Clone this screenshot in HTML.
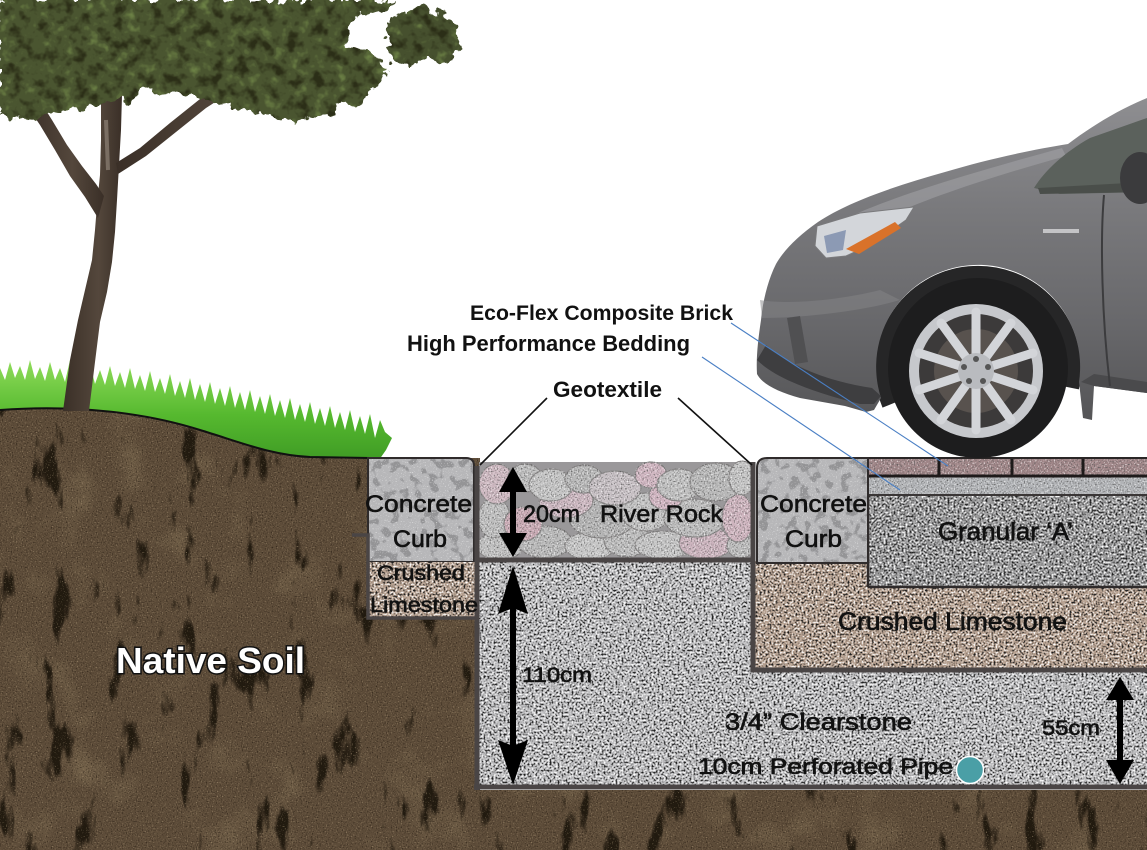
<!DOCTYPE html>
<html><head><meta charset="utf-8"><style>html,body{margin:0;padding:0;background:#fff}svg{display:block}</style></head>
<body>
<svg width="1147" height="850" viewBox="0 0 1147 850" xmlns="http://www.w3.org/2000/svg">
<defs>
<filter id="fSoil" filterUnits="userSpaceOnUse" x="0" y="0" width="1147" height="850" color-interpolation-filters="sRGB">
 <feTurbulence type="fractalNoise" baseFrequency="0.045 0.014" numOctaves="4" seed="11" result="t1"/>
 <feColorMatrix in="t1" type="matrix" values="0 0 0 0 0.13 0 0 0 0 0.1 0 0 0 0 0.06 -9 0 0 0 3.3" result="dk"/>
 <feTurbulence type="fractalNoise" baseFrequency="0.02" numOctaves="3" seed="4" result="t3"/>
 <feColorMatrix in="t3" type="matrix" values="0 0 0 0 0.48 0 0 0 0 0.41 0 0 0 0 0.31 2 0 0 0 -1.1" result="lp"/>
 <feTurbulence type="fractalNoise" baseFrequency="0.8" numOctaves="1" seed="3" result="t2"/>
 <feColorMatrix in="t2" type="matrix" values="0 0 0 0 0.66 0 0 0 0 0.58 0 0 0 0 0.46 4 0 0 0 -2.45" result="lt"/>
 <feColorMatrix in="t2" type="matrix" values="0 0 0 0 0.16 0 0 0 0 0.12 0 0 0 0 0.08 -4 0 0 0 1.7" result="dk2"/>
 <feMerge result="m"><feMergeNode in="SourceGraphic"/><feMergeNode in="lp"/><feMergeNode in="dk"/><feMergeNode in="dk2"/><feMergeNode in="lt"/></feMerge>
 <feComposite in="m" in2="SourceGraphic" operator="in"/>
</filter>
<filter id="fGravel" filterUnits="userSpaceOnUse" x="0" y="0" width="1147" height="850" color-interpolation-filters="sRGB">
 <feTurbulence type="fractalNoise" baseFrequency="0.5" numOctaves="2" seed="5" result="t"/>
 <feColorMatrix in="t" type="matrix" values="0 0 0 0 0.12 0 0 0 0 0.12 0 0 0 0 0.12 -6 0 0 0 2.75" result="dk"/>
 <feColorMatrix in="t" type="matrix" values="0 0 0 0 1 0 0 0 0 1 0 0 0 0 1 5 0 0 0 -2.7" result="lt"/>
 <feMerge result="m"><feMergeNode in="SourceGraphic"/><feMergeNode in="dk"/><feMergeNode in="lt"/></feMerge>
 <feComposite in="m" in2="SourceGraphic" operator="in"/>
</filter>
<filter id="fFine" filterUnits="userSpaceOnUse" x="0" y="0" width="1147" height="850" color-interpolation-filters="sRGB">
 <feTurbulence type="fractalNoise" baseFrequency="0.7" numOctaves="1" seed="9" result="t"/>
 <feColorMatrix in="t" type="matrix" values="0 0 0 0 0.35 0 0 0 0 0.35 0 0 0 0 0.35 -4 0 0 0 1.8" result="dk"/>
 <feColorMatrix in="t" type="matrix" values="0 0 0 0 1 0 0 0 0 1 0 0 0 0 1 4 0 0 0 -2.3" result="lt"/>
 <feMerge result="m"><feMergeNode in="SourceGraphic"/><feMergeNode in="dk"/><feMergeNode in="lt"/></feMerge>
 <feComposite in="m" in2="SourceGraphic" operator="in"/>
</filter>
<filter id="fConc" filterUnits="userSpaceOnUse" x="0" y="0" width="1147" height="850" color-interpolation-filters="sRGB">
 <feTurbulence type="fractalNoise" baseFrequency="0.1" numOctaves="2" seed="21" result="t"/>
 <feColorMatrix in="t" type="matrix" values="0 0 0 0 0.58 0 0 0 0 0.58 0 0 0 0 0.59 -12 0 0 0 5.6" result="blob"/>
 <feTurbulence type="fractalNoise" baseFrequency="0.8" numOctaves="1" seed="2" result="t2"/>
 <feColorMatrix in="t2" type="matrix" values="0 0 0 0 0.95 0 0 0 0 0.95 0 0 0 0 0.95 4 0 0 0 -2.4" result="lt"/>
 <feMerge result="m"><feMergeNode in="SourceGraphic"/><feMergeNode in="blob"/><feMergeNode in="lt"/></feMerge>
 <feComposite in="m" in2="SourceGraphic" operator="in"/>
</filter>
<filter id="fLeaf" filterUnits="userSpaceOnUse" x="-30" y="-30" width="530" height="190" color-interpolation-filters="sRGB">
 <feTurbulence type="fractalNoise" baseFrequency="0.08" numOctaves="3" seed="7" result="t"/>
 <feDisplacementMap in="SourceGraphic" in2="t" scale="18" xChannelSelector="R" yChannelSelector="G" result="d"/>
 <feColorMatrix in="t" type="matrix" values="0 0 0 0 0.42 0 0 0 0 0.5 0 0 0 0 0.27 4 0 0 0 -2.4" result="lt"/>
 <feColorMatrix in="t" type="matrix" values="0 0 0 0 0.17 0 0 0 0 0.18 0 0 0 0 0.09 -4 0 0 0 2.0" result="dk"/>
 <feMerge result="m"><feMergeNode in="d"/><feMergeNode in="lt"/><feMergeNode in="dk"/></feMerge>
 <feComposite in="m" in2="d" operator="in"/>
</filter>
<linearGradient id="gGrass" x1="0" y1="0" x2="0" y2="1">
 <stop offset="0" stop-color="#8fdc5a"/><stop offset="0.5" stop-color="#56b92f"/><stop offset="1" stop-color="#3a9522"/>
</linearGradient>
<linearGradient id="gCar" x1="0" y1="0" x2="0" y2="1">
 <stop offset="0" stop-color="#8e8e91"/><stop offset="0.35" stop-color="#79797c"/><stop offset="0.7" stop-color="#68686b"/><stop offset="1" stop-color="#555557"/>
</linearGradient>
<linearGradient id="gTrunk" x1="0" y1="0" x2="1" y2="0">
 <stop offset="0" stop-color="#3a2f27"/><stop offset="0.6" stop-color="#54473c"/><stop offset="1" stop-color="#3a2f27"/>
</linearGradient>
</defs>

<rect width="1147" height="850" fill="#fff"/>

<polygon fill="url(#gGrass)" points="0,470 0,368 5,380 10,362 15,378 20,366 25,380 30,360 35,379 40,367 45,381 50,362 55,380 60,368 65,382 70,360 75,381 80,369 85,383 90,364 95,384 100,370 105,385 110,366 115,386 120,372 125,388 130,368 135,389 140,375 145,391 150,371 155,392 160,378 165,394 170,374 175,396 180,381 185,398 190,378 195,400 200,384 205,402 210,382 215,404 220,388 225,406 230,386 235,408 240,392 245,410 250,390 255,412 260,396 265,414 270,394 275,416 280,400 285,418 290,398 295,420 300,404 305,422 310,402 315,424 320,408 325,426 330,406 335,428 340,412 345,430 350,410 355,432 360,416 365,434 370,414 375,438 380,420 385,432 392,438 386,450 372,470"/>

<path filter="url(#fSoil)" fill="#5d4c39" d="M0,410 C80,404 150,414 200,430 C240,442 270,455 310,457 L372,458 L480,458 L480,790 L1147,790 L1147,850 L0,850 Z"/>
<path d="M0,410 C80,404 150,414 200,430 C240,442 270,455 310,457 L370,458" fill="none" stroke="#111" stroke-width="2"/>

<g fill="url(#gTrunk)">
 <polygon points="63,411 70,360 78,320 85,290 92,260 95,230 97,205 100,175 101,140 101,95 122,95 121,130 119,165 117,200 115,232 112,262 107,292 100,322 95,362 89,411"/>
 <polygon points="98,218 85,197 70,176 55,150 40,125 25,103 38,98 52,120 67,145 82,166 96,184 104,196"/>
 <polygon points="116,163 140,148 170,123 200,99 232,78 270,54 300,36 305,43 276,62 237,88 206,108 176,132 146,156 118,174"/>
</g>
<path d="M106,120 L108,170" stroke="#9a8e82" stroke-width="4" opacity="0.6"/>

<g filter="url(#fLeaf)">
 <path fill="#4a5530" d="M0,0 H395 L385,12 L360,14 L345,30 L350,45 L375,55 L392,68 L382,82 L368,94 L360,106 L340,102 L330,116 L300,122 L270,118 L250,108 L220,106 L200,98 L170,94 L150,88 L130,98 L115,103 L95,106 L70,110 L50,114 L30,118 L10,120 L0,118 Z"/>
 <path fill="#46502e" d="M388,22 L405,10 L425,6 L445,15 L460,30 L462,50 L450,62 L440,64 L420,57 L410,68 L395,62 L386,46 Z"/>
</g>

<rect filter="url(#fGravel)" x="478" y="561" width="669" height="226" fill="#bdbdbf"/>
<rect filter="url(#fGravel)" x="755" y="561" width="392" height="109" fill="#b6a08f"/>
<rect filter="url(#fGravel)" x="868" y="494" width="279" height="93" fill="#9a9a9b"/>
<line x1="868" y1="494" x2="868" y2="587" stroke="#2e2a2a" stroke-width="2.5"/>
<line x1="868" y1="587" x2="1147" y2="587" stroke="#2e2a2a" stroke-width="2.5"/>
<rect filter="url(#fFine)" x="868" y="476" width="279" height="19" fill="#b2b4b7"/>
<line x1="868" y1="495" x2="1147" y2="495" stroke="#3a3636" stroke-width="2"/>
<rect filter="url(#fFine)" x="868" y="458" width="279" height="18" fill="#a08688"/>
<g stroke="#1e1a1a" stroke-width="3">
 <line x1="868" y1="476" x2="1147" y2="476"/>
 <line x1="939" y1="458" x2="939" y2="476"/>
 <line x1="1012" y1="458" x2="1012" y2="476"/>
 <line x1="1083" y1="458" x2="1083" y2="476"/>
</g>
<line x1="868" y1="458" x2="1147" y2="458" stroke="#2a2626" stroke-width="2"/>
<path filter="url(#fConc)" d="M757,563 L757,468 Q757,458 767,458 L868,458 L868,563 Z" fill="#b7b7b9"/>
<path d="M757,563 L757,468 Q757,458 767,458 L868,458 L868,563 Z" fill="none" stroke="#2f2b2b" stroke-width="2"/>

<path filter="url(#fConc)" d="M368,458 L466,458 Q474,458 474,466 L474,562 L368,562 Z" fill="#b7b7b9"/>
<path d="M368,458 L466,458 Q474,458 474,466 L474,562 L368,562 Z" fill="none" stroke="#2f2b2b" stroke-width="2"/>
<rect filter="url(#fGravel)" x="369" y="562" width="106" height="55" fill="#b6a08f"/>

<rect x="479" y="462" width="274" height="97" fill="#9a989a"/>
<g filter="url(#fFine)" stroke="#8a8888" stroke-width="1.2">
 <ellipse cx="500" cy="546" rx="23" ry="14" fill="#c0c0c0"/>
 <ellipse cx="545" cy="542" rx="27" ry="16" fill="#b9b9b9"/>
 <ellipse cx="590" cy="546" rx="25" ry="14" fill="#c6c6c6"/>
 <ellipse cx="627" cy="540" rx="23" ry="17" fill="#bdbdbd"/>
 <ellipse cx="663" cy="545" rx="28" ry="14" fill="#c4c4c4"/>
 <ellipse cx="706" cy="543" rx="27" ry="16" fill="#cbb3bd"/>
 <ellipse cx="741" cy="546" rx="14" ry="12" fill="#bcbcbc"/>
 <ellipse cx="494" cy="518" rx="16" ry="20" fill="#bebebe"/>
 <ellipse cx="523" cy="524" rx="19" ry="17" fill="#c9aab4"/>
 <ellipse cx="602" cy="518" rx="33" ry="20" fill="#b4b4b4"/>
 <ellipse cx="646" cy="512" rx="25" ry="19" fill="#c2c2c2"/>
 <ellipse cx="695" cy="518" rx="31" ry="19" fill="#bcbcbc"/>
 <ellipse cx="738" cy="518" rx="16" ry="24" fill="#cdb3bd"/>
 <ellipse cx="566" cy="500" rx="27" ry="18" fill="#ccb7c0"/>
 <ellipse cx="666" cy="496" rx="17" ry="14" fill="#d0b4c0"/>
 <ellipse cx="497" cy="484" rx="18" ry="20" fill="#cdb8c0"/>
 <ellipse cx="525" cy="478" rx="17" ry="14" fill="#bdbdbd"/>
 <ellipse cx="551" cy="485" rx="22" ry="16" fill="#c4c4c4"/>
 <ellipse cx="584" cy="479" rx="19" ry="14" fill="#b8b8b8"/>
 <ellipse cx="615" cy="488" rx="26" ry="17" fill="#c6bfc3"/>
 <ellipse cx="651" cy="475" rx="16" ry="13" fill="#cfb5c0"/>
 <ellipse cx="679" cy="485" rx="22" ry="16" fill="#c0c0c0"/>
 <ellipse cx="716" cy="482" rx="26" ry="19" fill="#b8b8b8"/>
 <ellipse cx="742" cy="478" rx="13" ry="17" fill="#c4c4c4"/>
</g>

<g stroke="#4a4545" fill="none">
 <polyline points="352,535 368,535 368,618 477,618" stroke-width="3.5"/>
 <line x1="477" y1="466" x2="477" y2="790" stroke-width="5"/>
 <line x1="474" y1="787" x2="1147" y2="787" stroke-width="5"/>
 <line x1="477" y1="560" x2="755" y2="560" stroke-width="5"/>
 <line x1="753" y1="462" x2="753" y2="672" stroke-width="5"/>
 <line x1="751" y1="670" x2="1147" y2="670" stroke-width="5"/>
</g>

<path d="M889,405 A96,96 0 1 1 1072,388" fill="none" stroke="#262627" stroke-width="14"/>
<path fill="url(#gCar)" d="M1147,98 C1118,110 1092,126 1068,144 C1030,150 985,160 945,172 C895,186 848,202 818,222 C798,236 784,250 776,264 C768,280 763,300 761,320 C758,340 756,358 757,374 C762,384 778,392 800,398 L845,406 L866,412 L874,410 L881,398 A102,102 0 1 1 1079,382 L1083,418 L1092,420 L1094,386 L1147,393 Z"/>
<path d="M830,226 C880,200 960,176 1062,148 L1066,156 C980,180 905,205 852,234 Z" fill="#a4a4a7" opacity="0.55"/>
<path d="M760,300 C790,305 840,300 880,290 L900,300 C860,312 800,318 762,318 Z" fill="#858588" opacity="0.5"/>
<path d="M757,360 C775,378 812,392 860,404 L874,404 L881,396 L872,388 C832,382 792,368 766,345 Z" fill="#3e3e40"/>
<path d="M787,318 L800,316 L808,362 L795,364 Z" fill="#505052"/>
<path d="M1081,382 L1094,386 L1147,393 L1147,382 L1094,374 Z" fill="#4a4a4c"/>
<path d="M817,226 L860,213 L914,207 L906,220 L872,244 L846,256 L826,258 L815,246 Z" fill="#d3d6da" stroke="#7a7a7c" stroke-width="1"/>
<path d="M824,236 L846,230 L843,250 L827,253 Z" fill="#8c9ab4"/>
<path d="M846,249 L895,222 L901,228 L859,254 Z" fill="#d9722a"/>
<path d="M1034,188 C1045,170 1065,152 1090,138 L1147,118 L1147,192 L1060,194 Z" fill="#5b615c"/>
<path d="M1038,188 L1147,182 L1147,192 L1040,194 Z" fill="#4a4e4a"/>
<ellipse cx="1140" cy="178" rx="20" ry="26" fill="#3b3b3d"/>
<path d="M1104,195 C1100,240 1102,320 1110,386" fill="none" stroke="#3c3c3e" stroke-width="2"/>
<rect x="1043" y="229" width="36" height="4" fill="#d8d8da" opacity="0.8"/>
<circle cx="978" cy="368" r="90" fill="#1d1d1e"/>
<circle cx="976" cy="371" r="67" fill="#c6c8cc"/>
<circle cx="976" cy="371" r="57" fill="#3c3a3a"/>
<circle cx="976" cy="371" r="42" fill="#6a625c" opacity="0.6"/>
<g stroke="#d3d5d9" stroke-width="9" stroke-linecap="round">
 <line x1="976" y1="371" x2="976" y2="312"/>
 <line x1="976" y1="371" x2="1011" y2="323"/>
 <line x1="976" y1="371" x2="1033" y2="353"/>
 <line x1="976" y1="371" x2="1033" y2="390"/>
 <line x1="976" y1="371" x2="1011" y2="420"/>
 <line x1="976" y1="371" x2="976" y2="430"/>
 <line x1="976" y1="371" x2="941" y2="420"/>
 <line x1="976" y1="371" x2="919" y2="390"/>
 <line x1="976" y1="371" x2="919" y2="353"/>
 <line x1="976" y1="371" x2="941" y2="323"/>
</g>
<circle cx="976" cy="371" r="18" fill="#b9bbbf"/>
<g fill="#555"><circle cx="976" cy="359" r="3"/><circle cx="988" cy="367" r="3"/><circle cx="983" cy="381" r="3"/><circle cx="969" cy="381" r="3"/><circle cx="964" cy="367" r="3"/></g>

<g stroke="#111" stroke-width="1.6">
 <line x1="547" y1="398" x2="480" y2="465"/>
 <line x1="678" y1="398" x2="752" y2="465"/>
</g>
<g stroke="#4a7fc4" stroke-width="1.1">
 <line x1="731" y1="323" x2="948" y2="466"/>
 <line x1="702" y1="357" x2="900" y2="490"/>
</g>

<g fill="#000">
 <rect x="510" y="488" width="6" height="50"/>
 <polygon points="513,467 499,492 527,492"/>
 <polygon points="513,557 499,533 527,533"/>
 <rect x="510" y="605" width="6" height="145"/>
 <polygon points="513,566 498,614 513,608 528,614"/>
 <polygon points="513,785 498,740 513,746 528,740"/>
 <rect x="1117" y="692" width="6" height="74"/>
 <polygon points="1120,677 1106,700 1134,700"/>
 <polygon points="1120,784 1106,760 1134,760"/>
</g>
<circle cx="970" cy="770" r="13.5" fill="#4a9fa6" stroke="#ffffff" stroke-width="1.5"/>

<g font-family="'Liberation Sans', sans-serif" fill="#111">
 <text x="470" y="320" font-size="21" font-weight="bold" textLength="263" lengthAdjust="spacingAndGlyphs">Eco-Flex Composite Brick</text>
 <text x="407" y="351" font-size="22" font-weight="bold" textLength="283" lengthAdjust="spacingAndGlyphs">High Performance Bedding</text>
 <text x="553" y="397" font-size="22" font-weight="bold" textLength="109" lengthAdjust="spacingAndGlyphs">Geotextile</text>
</g>
<g font-family="'Liberation Sans', sans-serif" fill="#111" stroke="#111" stroke-width="0.6">
 <text x="365" y="512" font-size="24" textLength="107" lengthAdjust="spacingAndGlyphs">Concrete</text>
 <text x="393" y="547" font-size="24" textLength="54" lengthAdjust="spacingAndGlyphs">Curb</text>
 <text x="377" y="580" font-size="21" textLength="88" lengthAdjust="spacingAndGlyphs">Crushed</text>
 <text x="370" y="612" font-size="21" textLength="108" lengthAdjust="spacingAndGlyphs">Limestone</text>
 <text x="523" y="522" font-size="24" textLength="57" lengthAdjust="spacingAndGlyphs">20cm</text>
 <text x="600" y="522" font-size="24" textLength="123" lengthAdjust="spacingAndGlyphs">River Rock</text>
 <text x="760" y="512" font-size="24" textLength="107" lengthAdjust="spacingAndGlyphs">Concrete</text>
 <text x="785" y="547" font-size="24" textLength="57" lengthAdjust="spacingAndGlyphs">Curb</text>
 <text x="938" y="540" font-size="25" textLength="135" lengthAdjust="spacingAndGlyphs">Granular ‘A’</text>
 <text x="838" y="630" font-size="25" textLength="229" lengthAdjust="spacingAndGlyphs">Crushed Limestone</text>
 <text x="522" y="682" font-size="21" textLength="70" lengthAdjust="spacingAndGlyphs">110cm</text>
 <text x="725" y="730" font-size="24" textLength="187" lengthAdjust="spacingAndGlyphs">3/4” Clearstone</text>
 <text x="698" y="774" font-size="22" textLength="255" lengthAdjust="spacingAndGlyphs">10cm Perforated Pipe</text>
 <text x="1042" y="735" font-size="21" textLength="58" lengthAdjust="spacingAndGlyphs">55cm</text>
</g>
<text x="116" y="673" font-family="'Liberation Sans', sans-serif" font-size="36" font-weight="bold" fill="#fff" stroke="#111" stroke-width="3" paint-order="stroke" textLength="189" lengthAdjust="spacingAndGlyphs">Native Soil</text>
</svg>
</body></html>
